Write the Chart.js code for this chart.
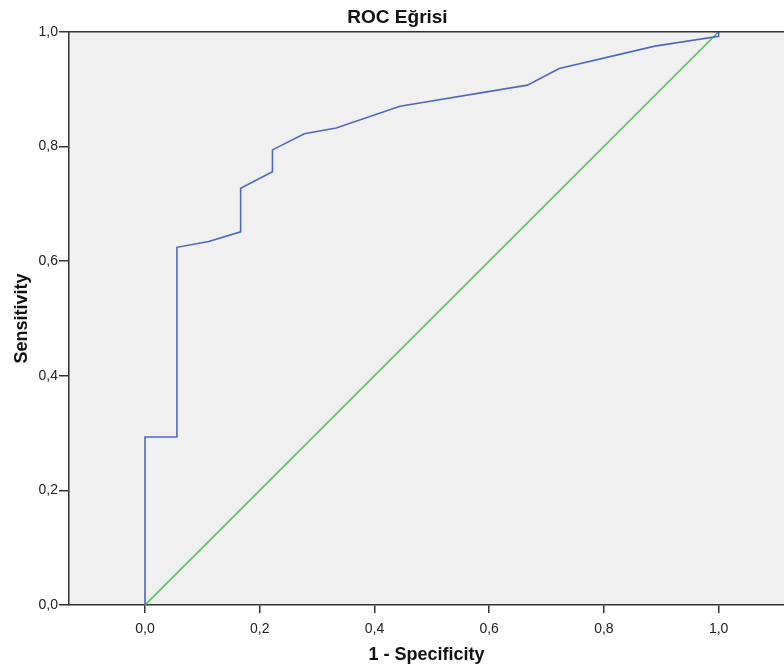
<!DOCTYPE html>
<html>
<head>
<meta charset="utf-8">
<script src="https://cdn.jsdelivr.net/npm/chart.js@4/dist/chart.umd.min.js"></script>
<style>
  html, body { margin: 0; padding: 0; background: #fff; }
  #wrap { width: 784px; height: 670px; }
</style>
</head>
<body>
<div id="wrap"><canvas id="roc"></canvas></div>
<script>
// ROC curve points (1 - specificity, sensitivity)
const fpr = [0, 0, 0.0556, 0.0556, 0.1111, 0.1667, 0.1667, 0.2222, 0.2222, 0.2778, 0.3333, 0.4444, 0.6667, 0.7222, 0.8889, 1.0, 1.0];
const tpr = [0, 0.293, 0.293, 0.624, 0.634, 0.651, 0.727, 0.756, 0.794, 0.822, 0.832, 0.870, 0.907, 0.936, 0.975, 0.992, 1.0];
// reference diagonal
const refX = [0, 1];
const refY = [0, 1];
const tickVals = [0, 0.2, 0.4, 0.6, 0.8, 1.0];

const toPts = (xs, ys) => xs.map((x, i) => ({ x: x, y: ys[i] }));
const fmt = v => v.toFixed(1).replace('.', ',');
const FONT = 'Liberation Sans, Arial, sans-serif';

// plot background + top frame line
const frame = {
  id: 'frame',
  beforeDraw(chart) {
    const { ctx, chartArea: a } = chart;
    ctx.save();
    ctx.fillStyle = '#f0f0f0';
    ctx.fillRect(a.left, a.top, a.right - a.left, a.bottom - a.top);
    ctx.restore();
  },
  afterDraw(chart) {
    const { ctx, chartArea: a } = chart;
    ctx.save();
    ctx.strokeStyle = '#333';
    ctx.lineWidth = 1.5;
    ctx.beginPath();
    ctx.moveTo(a.left, a.top);
    ctx.lineTo(a.right, a.top);
    ctx.stroke();
    ctx.restore();
  }
};

new Chart(document.getElementById('roc'), {
  type: 'scatter',
  data: {
    datasets: [
      {
        label: 'ROC',
        data: toPts(fpr, tpr),
        showLine: true,
        borderColor: '#4f67bf',
        borderWidth: 1.6,
        pointRadius: 0,
        tension: 0
      },
      {
        label: 'Reference',
        data: toPts(refX, refY),
        showLine: true,
        borderColor: '#4ec25a',
        borderWidth: 1.6,
        pointRadius: 0
      }
    ]
  },
  options: {
    responsive: true,
    maintainAspectRatio: false,
    animation: false,
    layout: { padding: { left: 11, right: 0, top: 0, bottom: 0 } },
    plugins: {
      legend: { display: false },
      tooltip: { enabled: false },
      title: {
        display: true,
        text: 'ROC Eğrisi',
        color: '#111',
        font: { family: FONT, size: 19, weight: 'bold' },
        padding: { top: 6, bottom: 3 }
      }
    },
    scales: {
      x: {
        type: 'linear',
        min: -0.1325,
        max: 1.114,
        afterBuildTicks: s => { s.ticks = tickVals.map(v => ({ value: v })); },
        afterFit: s => { s.height = 65; },
        ticks: {
          callback: v => fmt(v),
          color: '#222',
          font: { family: FONT, size: 14 },
          padding: 8,
          maxRotation: 0
        },
        grid: { drawOnChartArea: false, tickLength: 8, color: '#333', lineWidth: 1.5 },
        border: { color: '#333', width: 1.5 },
        title: {
          display: true,
          text: '1 - Specificity',
          color: '#111',
          font: { family: FONT, size: 18, weight: 'bold' },
          padding: { top: 7, bottom: 4 }
        }
      },
      y: {
        type: 'linear',
        min: 0,
        max: 1,
        afterBuildTicks: s => { s.ticks = tickVals.map(v => ({ value: v })); },
        afterFit: s => { s.width = 58; },
        ticks: {
          callback: v => fmt(v),
          color: '#222',
          font: { family: FONT, size: 14 },
          padding: 1
        },
        grid: { drawOnChartArea: false, tickLength: 10, color: '#333', lineWidth: 1.5 },
        border: { color: '#333', width: 1.5 },
        title: {
          display: true,
          text: 'Sensitivity',
          color: '#111',
          font: { family: FONT, size: 18, weight: 'bold' },
          padding: { top: 0, bottom: 0 }
        }
      }
    }
  },
  plugins: [frame]
});
</script>
</body>
</html>
